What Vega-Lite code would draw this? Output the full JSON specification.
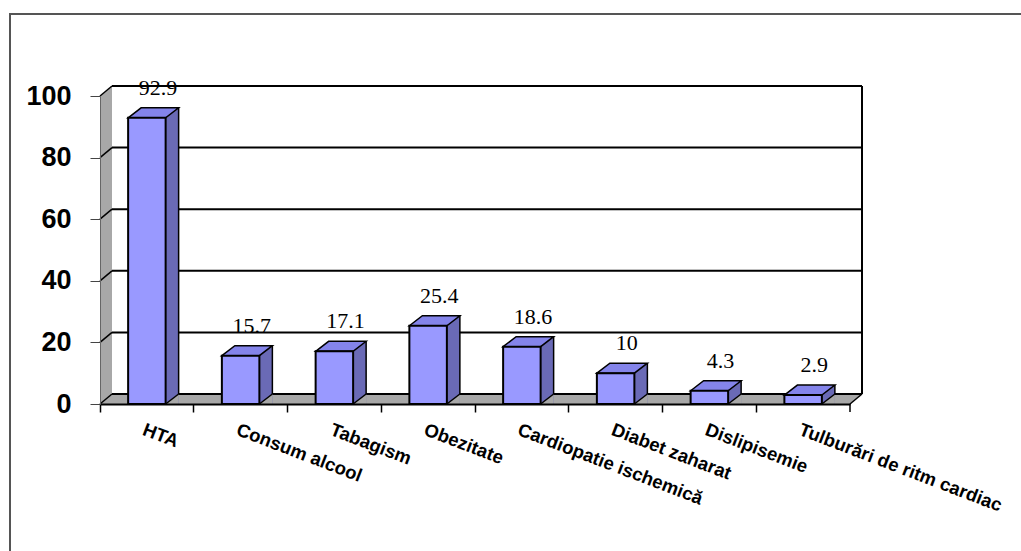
{
  "$schema": "https://vega.github.io/schema/vega-lite/v6.json",
  "width": 750,
  "height": 308,
  "autosize": "none",
  "padding": {"left": 100, "top": 96, "right": 171, "bottom": 147},
  "background": "white",
  "config": {"view": {"stroke": null}},
  "resolve": {"axis": {"x": "independent", "y": "independent"}},
  "datasets": {
    "bars": [
      {"c": "HTA", "v": 92.9},
      {"c": "Consum alcool", "v": 15.7},
      {"c": "Tabagism", "v": 17.1},
      {"c": "Obezitate", "v": 25.4},
      {"c": "Cardiopatie ischemică", "v": 18.6},
      {"c": "Diabet zaharat", "v": 10},
      {"c": "Dislipisemie", "v": 4.3},
      {"c": "Tulburări de ritm cardiac", "v": 2.9}
    ],
    "grid": [{"g": 0}, {"g": 20}, {"g": 40}, {"g": 60}, {"g": 80}, {"g": 100}],
    "one": [{"k": 1}]
  },
  "layer": [
    {
      "data": {"name": "one"},
      "mark": {"type": "rect", "filled": false, "stroke": "#555555", "strokeWidth": 2},
      "encoding": {"x": {"value": -90}, "x2": {"value": 935}, "y": {"value": -82}, "y2": {"value": 470}}
    },
    {
      "data": {"name": "one"},
      "mark": {"type": "rect", "fill": "#a8a8a8", "yOffset": -10},
      "encoding": {
        "x": {"value": 0}, "x2": {"value": 12},
        "y": {"datum": 100, "type": "quantitative", "scale": {"domain": [0, 100], "nice": false}, "axis": null},
        "y2": {"datum": 0}
      }
    },
    {
      "data": {"name": "one"},
      "mark": {"type": "rect", "fill": "#a8a8a8", "yOffset": -10},
      "encoding": {
        "x": {"value": 0}, "x2": {"value": 762},
        "y": {"datum": 0, "type": "quantitative", "axis": null},
        "y2": {"datum": 0}
      }
    },
    {
      "data": {"name": "one"},
      "mark": {"type": "point", "shape": "M0,0L12,-10L0,-10Z", "size": 4, "filled": true, "fill": "white", "opacity": 1, "strokeWidth": 0},
      "encoding": {"x": {"value": 0}, "y": {"datum": 100, "type": "quantitative", "axis": null}}
    },
    {
      "data": {"name": "one"},
      "mark": {"type": "point", "shape": "M0,0L12,-10L12,0Z", "size": 4, "filled": true, "fill": "white", "opacity": 1, "strokeWidth": 0},
      "encoding": {"x": {"value": 750}, "y": {"datum": 0, "type": "quantitative", "axis": null}}
    },
    {
      "data": {"name": "grid"},
      "mark": {"type": "rule", "color": "black", "strokeWidth": 2, "yOffset": -10},
      "encoding": {"x": {"value": 12}, "x2": {"value": 762}, "y": {"field": "g", "type": "quantitative", "axis": null}}
    },
    {
      "data": {"name": "grid"},
      "mark": {"type": "rule", "color": "black", "strokeWidth": 1.5, "y2Offset": -10},
      "encoding": {"x": {"value": 0}, "x2": {"value": 12}, "y": {"field": "g", "type": "quantitative", "axis": null}, "y2": {"field": "g"}}
    },
    {
      "data": {"name": "one"},
      "mark": {"type": "rule", "color": "black", "strokeWidth": 2, "yOffset": -10, "y2Offset": -10},
      "encoding": {"x": {"value": 762}, "y": {"datum": 100, "type": "quantitative", "axis": null}, "y2": {"datum": 0}}
    },
    {
      "data": {"name": "one"},
      "mark": {"type": "rule", "color": "black", "strokeWidth": 1.5, "y2Offset": -10},
      "encoding": {"x": {"value": 750}, "x2": {"value": 762}, "y": {"datum": 0, "type": "quantitative", "axis": null}, "y2": {"datum": 0}}
    },
    {
      "data": {"name": "one"},
      "mark": {"type": "rule", "color": "black", "strokeWidth": 1.5, "y2Offset": 8},
      "encoding": {"x": {"value": 750}, "y": {"datum": 0, "type": "quantitative", "axis": null}, "y2": {"datum": 0}}
    },
    {
      "data": {"name": "bars"},
      "mark": {"type": "bar", "width": 13, "xOffset": 25.25, "yOffset": -10, "fill": "#6a6ab6"},
      "encoding": {
        "x": {"field": "c", "type": "nominal", "sort": null, "scale": {"paddingInner": 0, "paddingOuter": 0}, "axis": null},
        "y": {"field": "v", "type": "quantitative", "axis": null},
        "y2": {"datum": 0}
      }
    },
    {
      "data": {"name": "bars"},
      "mark": {"type": "point", "shape": "M18.75,0L31.75,-10L31.75,0Z", "size": 4, "filled": true, "fill": "#a8a8a8", "opacity": 1, "strokeWidth": 0},
      "encoding": {
        "x": {"field": "c", "type": "nominal", "sort": null, "axis": null},
        "y": {"datum": 0, "type": "quantitative", "axis": null}
      }
    },
    {
      "data": {"name": "bars"},
      "mark": {"type": "point", "shape": "M18.75,0L31.75,-10", "size": 4, "filled": false, "stroke": "black", "strokeWidth": 1.5, "opacity": 1},
      "encoding": {
        "x": {"field": "c", "type": "nominal", "sort": null, "axis": null},
        "y": {"datum": 0, "type": "quantitative", "axis": null}
      }
    },
    {
      "data": {"name": "bars"},
      "mark": {"type": "rule", "color": "black", "strokeWidth": 1.5, "xOffset": 31.75, "yOffset": -10, "y2Offset": -10},
      "encoding": {
        "x": {"field": "c", "type": "nominal", "sort": null, "axis": null},
        "y": {"field": "v", "type": "quantitative", "axis": null},
        "y2": {"datum": 0}
      }
    },
    {
      "data": {"name": "bars"},
      "mark": {"type": "point", "shape": "M-18.75,0L-5.75,-10L31.75,-10L18.75,0Z", "size": 4, "filled": true, "fill": "#8484ea", "stroke": "black", "strokeWidth": 1.5, "opacity": 1},
      "encoding": {
        "x": {"field": "c", "type": "nominal", "sort": null, "axis": null},
        "y": {"field": "v", "type": "quantitative", "axis": null}
      }
    },
    {
      "data": {"name": "bars"},
      "mark": {"type": "bar", "width": {"band": 0.4}, "fill": "#9999ff", "stroke": "black", "strokeWidth": 2},
      "encoding": {
        "x": {
          "field": "c", "type": "nominal", "sort": null,
          "scale": {"paddingInner": 0, "paddingOuter": 0},
          "axis": {
            "title": null, "bandPosition": 0, "labelOffset": 0, "labelAngle": 21,
            "labelAlign": "left", "labelBaseline": "top", "labelFont": "Liberation Sans",
            "labelFontWeight": "bold", "labelFontSize": 18.5, "labelColor": "black",
            "tickSize": 8, "tickColor": "black", "tickWidth": 1.5, "domainColor": "black",
            "domainWidth": 2, "labelPadding": 8, "labelOverlap": false, "labelBound": false,
            "labelFlush": false, "labelLimit": 400, "grid": false, "zindex": 1
          }
        },
        "y": {
          "field": "v", "type": "quantitative",
          "scale": {"domain": [0, 100], "nice": false},
          "axis": {
            "title": null, "values": [0, 20, 40, 60, 80, 100], "tickSize": 10, "tickColor": "#444444",
            "tickWidth": 1, "domainColor": "#666666", "domainWidth": 1, "labelFont": "Liberation Sans",
            "labelFontWeight": "bold", "labelFontSize": 27, "labelPadding": 19, "labelColor": "black",
            "grid": false, "zindex": 1
          }
        },
        "y2": {"datum": 0}
      }
    },
    {
      "data": {"name": "bars"},
      "mark": {"type": "text", "font": "Liberation Serif", "fontSize": 22, "color": "black", "baseline": "alphabetic", "dy": -23, "dx": 11},
      "encoding": {
        "x": {"field": "c", "type": "nominal", "sort": null, "axis": null},
        "y": {"field": "v", "type": "quantitative", "axis": null},
        "text": {"field": "v", "type": "quantitative"}
      }
    }
  ]
}
